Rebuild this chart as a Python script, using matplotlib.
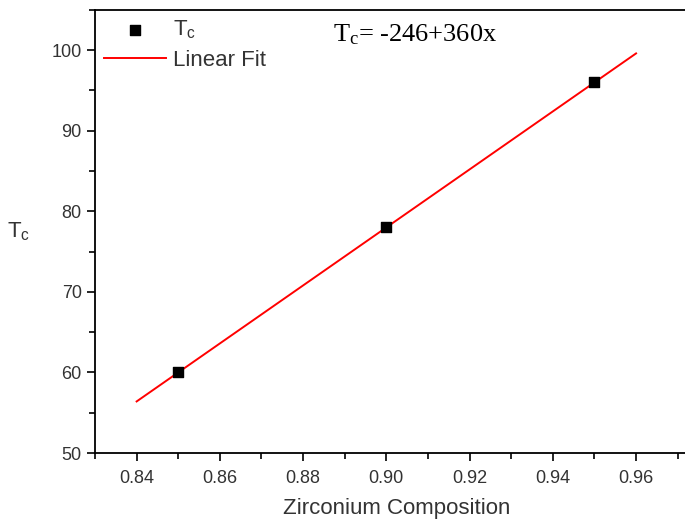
import matplotlib
matplotlib.use("Agg")
import matplotlib.pyplot as plt
from matplotlib.ticker import MultipleLocator
import numpy as np

# data
composition = [0.85, 0.90, 0.95]
tc_values = [60, 78, 96]
fit_intercept = -246
fit_slope = 360
fit_range = [0.84, 0.96]

plt.rcParams["font.family"] = ["Liberation Sans", "DejaVu Sans"]
plt.rcParams["mathtext.default"] = "regular"

fig = plt.figure(figsize=(6.85, 5.21), dpi=100)
ax = fig.add_axes([0.1387, 0.1305, 0.881, 0.8505])

fit_x = np.array(fit_range)
fit_y = fit_intercept + fit_slope * fit_x

ax.scatter(composition, tc_values, marker="s", s=45, color="black", zorder=3,
           label="T$_{c}$")
ax.plot(fit_x, fit_y, color="red", lw=1.4, label="Linear Fit", zorder=2)

ax.set_xlim(0.83, 0.975)
ax.set_ylim(50, 105)
ax.xaxis.set_major_locator(MultipleLocator(0.02))
ax.xaxis.set_minor_locator(MultipleLocator(0.01))
ax.yaxis.set_major_locator(MultipleLocator(10))
ax.yaxis.set_minor_locator(MultipleLocator(5))
ax.xaxis.set_major_formatter(plt.FormatStrFormatter("%.2f"))

ax.tick_params(which="major", direction="out", length=6, width=1.2,
               labelsize=13, labelcolor="#333333")
ax.tick_params(axis="x", which="major", pad=6)
ax.tick_params(which="minor", direction="out", length=4, width=1.2)
ax.tick_params(top=False, right=False, which="both")
for sp in ax.spines.values():
    sp.set_linewidth(1.3)

ax.set_xlabel("Zirconium Composition", fontsize=16, color="#333333", labelpad=8)
ax.set_ylabel("T$_{c}$", fontsize=16, color="#333333", rotation=0,
              labelpad=24, va="center")

ax.legend(loc="upper left", frameon=False, fontsize=16, handlelength=2.8,
          handletextpad=0.3, borderaxespad=0.2, labelspacing=0.4,
          borderpad=0.2, labelcolor="#333333")

ax.text(0.8871, 101.9, "T$_{c}$= -246+360x", fontsize=19, va="center",
        family=["Liberation Serif", "DejaVu Serif"])

fig.savefig("out.png", dpi=100)
